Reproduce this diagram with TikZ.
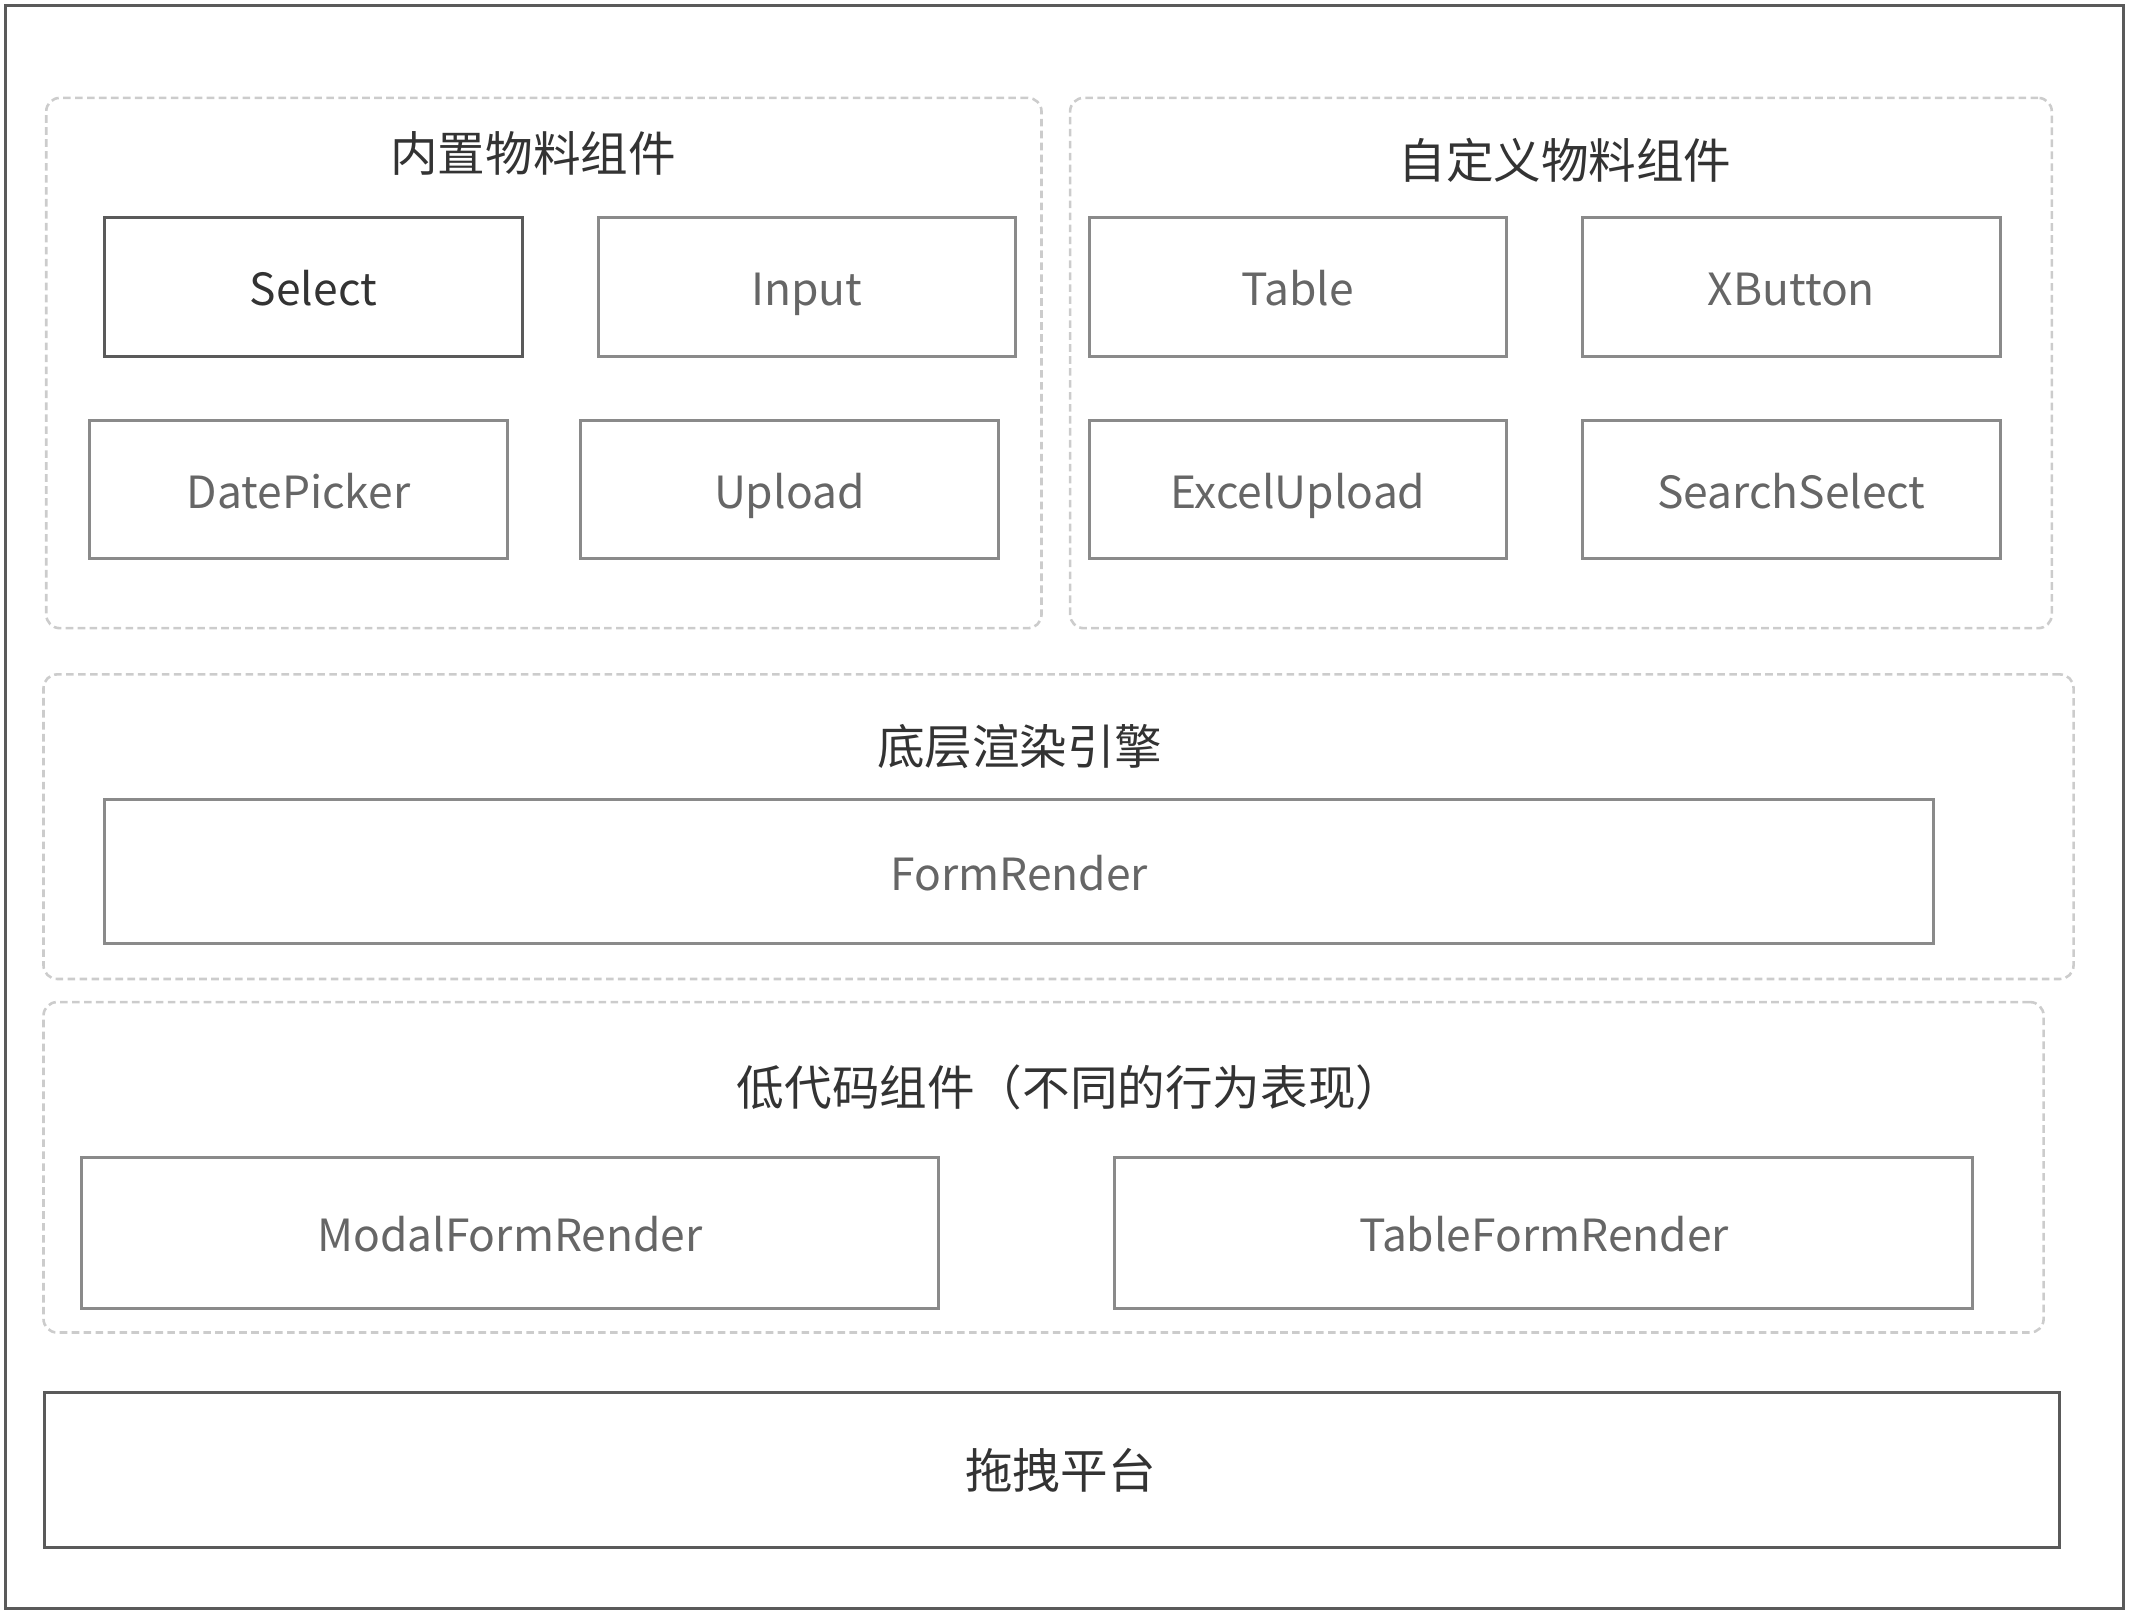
\documentclass[tikz,border=0pt]{standalone}
\usepackage{fontspec}
\setmainfont{Noto Sans CJK SC}
\definecolor{framegray}{HTML}{5A5A5A}
\definecolor{boxgray}{HTML}{8A8A8A}
\definecolor{dashgray}{HTML}{CCCCCC}
\definecolor{textdark}{HTML}{333333}
\definecolor{textgray}{HTML}{666666}
\tikzset{
	grp/.style={draw=dashgray, line width=0.95pt, dash pattern=on 2.8pt off 1.6pt,
		rounded corners=5pt, inner sep=0pt},
	comp/.style={draw=boxgray, line width=1.1pt, text=textgray, inner sep=0pt,
		font=\fontsize{16.3}{20}\selectfont, text height=16pt, text depth=2.2pt},
	compdark/.style={comp, draw=framegray, text=textdark},
	grptitle/.style={text=textdark, inner sep=0pt, font=\fontsize{17.5}{20}\selectfont},
}
\begin{document}
\begin{tikzpicture}[x=0.5pt, y=-0.5pt]
	{
		\def\u{0.5pt}
		\def\boxw{307}
		\def\boxh{102}
		\useasboundingbox (0,0) rectangle (1568,1187);
		\draw[framegray, line width=1.1pt] (4,4) rectangle (1562,1183);

		% dashed groups
		\node[grp, minimum width=732*\u, minimum height=390*\u] (builtin) at (400,267) {};
		\node[grp, minimum width=722*\u, minimum height=390*\u] (custom) at (1148,267) {};
		\node[grp, minimum width=1493*\u, minimum height=224*\u] (engine) at (778.5,608) {};
		\node[grp, minimum width=1471*\u, minimum height=243*\u] (lowcode) at (767.5,858.5) {};

		% group titles
		\node[grptitle] (builtintitle) at (392,113) {内置物料组件};
		\node[grptitle] (customtitle) at (1151,118) {自定义物料组件};
		\node[grptitle] (enginetitle) at (750,549) {底层渲染引擎};
		\node[grptitle] (lowcodetitle) at (787,800) {低代码组件（不同的行为表现）};

		% material components
		\node[compdark, minimum width=\boxw*\u, minimum height=\boxh*\u] (select) at (230.5,211) {Select};
		\foreach \name/\x/\y/\txt in {input/593.5/211/Input, datepicker/219.5/360/DatePicker,
			upload/580.5/360/Upload, table/954.5/211/Table, xbutton/1317.5/211/XButton,
			excelupload/954.5/360/ExcelUpload, searchselect/1317.5/360/SearchSelect}
		{
			\node[comp, minimum width=\boxw*\u, minimum height=\boxh*\u] (\name) at (\x,\y) {\txt};
		}

		% render layers
		\node[comp, minimum width=1345*\u, minimum height=106*\u] (formrender) at (749.5,641) {FormRender};
		\node[comp, minimum width=630*\u, minimum height=111*\u] (modalform) at (375,906.5) {ModalFormRender};
		\node[comp, minimum width=631*\u, minimum height=111*\u] (tableform) at (1135.5,906.5) {TableFormRender};

		\node[compdark, font=\fontsize{17.5}{20}\selectfont, minimum width=1482*\u, minimum height=114*\u]
			(platform) at (774,1081) {\hspace{6pt}拖拽平台};
	}
\end{tikzpicture}
\end{document}
